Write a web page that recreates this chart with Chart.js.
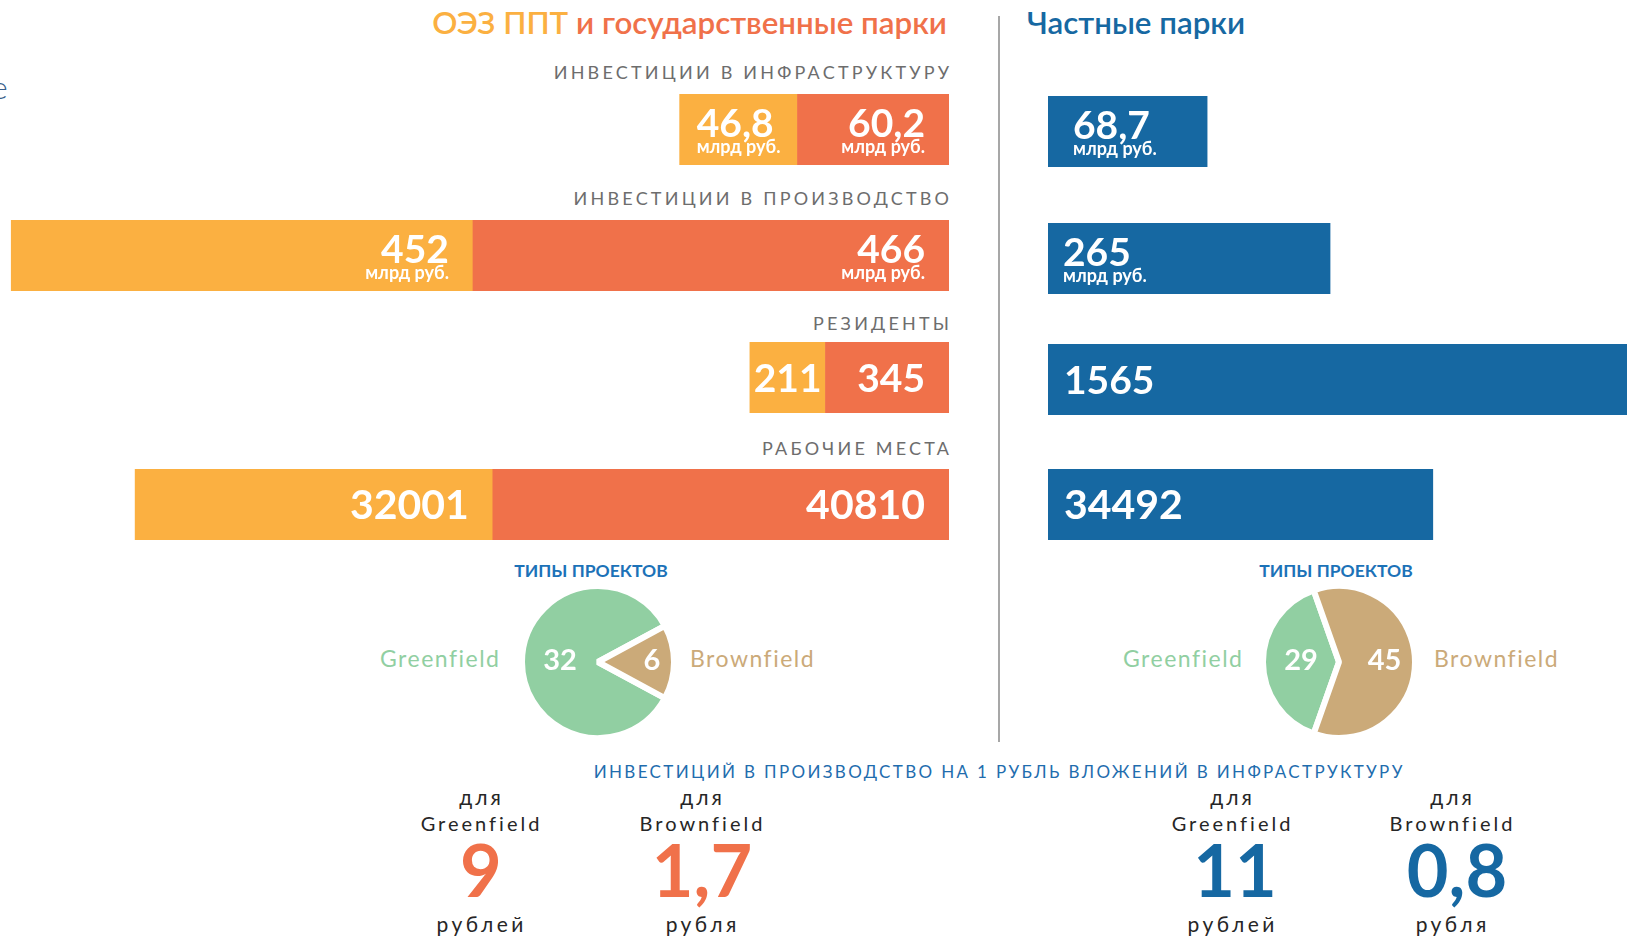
<!DOCTYPE html>
<html lang="ru">
<head>
<meta charset="utf-8">
<title>ОЭЗ ППТ, государственные и частные парки</title>
<script src="https://cdn.jsdelivr.net/npm/chart.js@4.4.1/dist/chart.umd.min.js"></script>
<style>
    html, body { margin: 0; padding: 0; background: #fff; }
    body {
        width: 1627px; height: 939px; position: relative; overflow: hidden;
        font-family: Lato, "Open Sans", sans-serif;
    }
    .txt { position: absolute; white-space: nowrap; line-height: 1; }
    canvas { position: absolute; }
    .divider { position: absolute; left: 998px; top: 16px; width: 2px; height: 726px; background: #a7a7a7; }
</style>
</head>
<body>
<div class="divider"></div>
<script>
// Données
const rowTitles = ['ИНВЕСТИЦИИ В ИНФРАСТРУКТУРУ', 'ИНВЕСТИЦИИ В ПРОИЗВОДСТВО', 'РЕЗИДЕНТЫ', 'РАБОЧИЕ МЕСТА'];
const rowUnits = ['млрд руб.', 'млрд руб.', '', ''];
const oezValues = [46.8, 452, 211, 32001];
const stateParkValues = [60.2, 466, 345, 40810];
const privateValues = [68.7, 265, 1565, 34492];

const pieLabels = ['Greenfield', 'Brownfield'];
const stateProjectTypes = [32, 6];
const privateProjectTypes = [29, 45];

const returnLabels = ['Greenfield', 'Brownfield'];
const returnUnits = ['рублей', 'рубля'];
const stateReturns = [9, 1.7];
const privateReturns = [11, 0.8];

// L'infographie n'a pas d'échelle commune : un maximum d'axe par ligne
const leftAxisMax = [377, 929, 2650, 84900];
const rightAxisMax = [250, 544, 1565, 51900];

// Couleurs
const ORANGE = '#fbb041';
const RED = '#f0714a';
const BLUE = '#1668a2';
const GREEN = '#91cfa2';
const TAN = '#cbaa79';
const FONT = 'Lato, "Open Sans", sans-serif';

// Mise en page
const leftRowTop = [94, 220, 342, 469];
const rightRowTop = [96, 223, 344, 469];
const rowHeight = 71;
const rowTitleBaseline = [79, 205, 330, 455];
const rowNumberSize = [39, 39, 39, 41];
const rightPad = [25, 15, 16, 16];

function formatNumber(v) {
    return String(v).replace('.', ',');
}

// Texte HTML positionné sur sa ligne de base
function addText(text, o) {
    const el = document.createElement('div');
    el.className = 'txt';
    if (Array.isArray(text)) {
        text.forEach(([t, c]) => {
            const s = document.createElement('span');
            s.textContent = t;
            s.style.color = c;
            el.appendChild(s);
        });
    } else {
        el.textContent = text;
        el.style.color = o.color;
    }
    const size = o.size;
    const sp = o.spacing || 0;
    el.style.fontSize = size + 'px';
    el.style.fontWeight = o.weight || 400;
    el.style.letterSpacing = sp + 'px';
    el.style.top = (o.baseline - 0.887 * size) + 'px';
    if (o.align === 'right') {
        el.style.right = (1627 - o.x - sp) + 'px';
    } else if (o.align === 'center') {
        el.style.left = (o.x + sp / 2) + 'px';
        el.style.transform = 'translateX(-50%)';
    } else {
        el.style.left = o.x + 'px';
    }
    document.body.appendChild(el);
    return el;
}

function addCanvas(left, top, width, height) {
    const c = document.createElement('canvas');
    c.width = width;
    c.height = height;
    c.style.left = left + 'px';
    c.style.top = top + 'px';
    document.body.appendChild(c);
    return c;
}

// Étiquettes blanches dans les barres
const barTextPlugin = {
    id: 'barText',
    afterDatasetsDraw(chart, args, opts) {
        const ctx = chart.ctx;
        const numFont = `bold ${opts.size}px ${FONT}`;
        const unitFont = `bold 18px ${FONT}`;
        ctx.save();
        ctx.fillStyle = '#fff';
        ctx.textBaseline = 'alphabetic';
        chart.data.datasets.forEach((ds, di) => {
            chart.getDatasetMeta(di).data.forEach((bar, i) => {
                const {x, y, base} = bar.getProps(['x', 'y', 'base'], true);
                const segLeft = Math.min(x, base);
                const segRight = Math.max(x, base);
                const text = formatNumber(ds.data[i]);

                ctx.font = numFont;
                let blockWidth = ctx.measureText(text).width;
                if (opts.unit) {
                    ctx.font = unitFont;
                    blockWidth = Math.max(blockWidth, ctx.measureText(opts.unit).width);
                }

                let tx;
                if (opts.align === 'left') {
                    tx = segLeft + opts.pad;
                    ctx.textAlign = 'left';
                } else if (segRight - segLeft < blockWidth + 2 * opts.pad) {
                    // segment étroit : bloc centré
                    tx = (segLeft + segRight - blockWidth) / 2;
                    ctx.textAlign = 'left';
                } else {
                    tx = segRight - opts.pad;
                    ctx.textAlign = 'right';
                }

                ctx.font = numFont;
                if (opts.unit) {
                    ctx.fillText(text, tx, y + 7);
                    ctx.font = unitFont;
                    ctx.fillText(opts.unit, tx, y + 23.5);
                } else {
                    ctx.fillText(text, tx, y + 14);
                }
            });
        });
        ctx.restore();
    }
};

// Valeurs dans les parts du camembert
const pieTextPlugin = {
    id: 'pieText',
    afterDatasetsDraw(chart, args, opts) {
        const ctx = chart.ctx;
        const values = chart.data.datasets[0].data;
        ctx.save();
        ctx.fillStyle = '#fff';
        ctx.font = `bold 29px ${FONT}`;
        ctx.textAlign = 'center';
        ctx.textBaseline = 'alphabetic';
        chart.getDatasetMeta(0).data.forEach((arc, i) => {
            const {x, y, startAngle, endAngle, outerRadius} =
                arc.getProps(['x', 'y', 'startAngle', 'endAngle', 'outerRadius'], true);
            const mid = (startAngle + endAngle) / 2;
            const r = outerRadius * opts.radius[i];
            ctx.fillText(String(values[i]), x + Math.cos(mid) * r, y + Math.sin(mid) * r + 8);
        });
        ctx.restore();
    }
};

function createRowChart(canvas, datasets, axisMax, reverse, textOpts) {
    return new Chart(canvas, {
        type: 'bar',
        data: { labels: [''], datasets: datasets },
        options: {
            indexAxis: 'y',
            responsive: false,
            animation: false,
            layout: { padding: 0 },
            datasets: { bar: { barPercentage: 1, categoryPercentage: 1, borderWidth: 0 } },
            scales: {
                x: { display: false, stacked: true, reverse: reverse, min: 0, max: axisMax },
                y: { display: false, stacked: true }
            },
            plugins: {
                legend: { display: false },
                tooltip: { enabled: false },
                barText: textOpts
            }
        },
        plugins: [barTextPlugin]
    });
}

function createPieChart(canvas, values, labelRadius) {
    const total = values[0] + values[1];
    return new Chart(canvas, {
        type: 'pie',
        data: {
            labels: pieLabels,
            datasets: [{
                data: values,
                backgroundColor: [GREEN, TAN],
                borderColor: '#fff',
                borderWidth: 6,
                hoverOffset: 0
            }]
        },
        options: {
            responsive: false,
            animation: false,
            layout: { padding: 0 },
            // Greenfield centré à gauche
            rotation: 270 - 180 * values[0] / total,
            plugins: {
                legend: { display: false },
                tooltip: { enabled: false },
                pieText: { radius: labelRadius }
            }
        },
        plugins: [pieTextPlugin]
    });
}

// Titres
addText([['ОЭЗ ППТ', ORANGE], [' и государственные парки', RED]],
    { x: 947, baseline: 35, size: 31.3, weight: 600, align: 'right' });
addText('Частные парки', { x: 1027, baseline: 35, size: 31.3, weight: 600, color: BLUE });
addText('e', { x: -9, baseline: 99, size: 32, weight: 300, color: '#3a5f8a' });

// Lignes de barres
rowTitles.forEach((title, i) => {
    addText(title, { x: 949, baseline: rowTitleBaseline[i], size: 18, spacing: 3.2, color: '#6d6d6d', align: 'right' });

    createRowChart(addCanvas(0, leftRowTop[i], 949, rowHeight), [
        { data: [stateParkValues[i]], backgroundColor: RED },
        { data: [oezValues[i]], backgroundColor: ORANGE }
    ], leftAxisMax[i], true, { align: 'right', pad: 24, size: rowNumberSize[i], unit: rowUnits[i] });

    createRowChart(addCanvas(1048, rightRowTop[i], 579, rowHeight), [
        { data: [privateValues[i]], backgroundColor: BLUE }
    ], rightAxisMax[i], false, { align: 'left', pad: rightPad[i], size: rowNumberSize[i], unit: rowUnits[i] });
});

// Types de projets
[[591, 499, 690, 519, stateProjectTypes, [0.5, 0.71]],
 [1336, 1242, 1434, 1260, privateProjectTypes, [0.5, 0.6]]].forEach(([cx, gx, bx, px, values, lr]) => {
    addText('ТИПЫ ПРОЕКТОВ', { x: cx, baseline: 578, size: 17.5, weight: 700, color: '#1c72b8', align: 'center' });
    addText(pieLabels[0], { x: gx, baseline: 667, size: 23, spacing: 1.5, color: GREEN, align: 'right' });
    addText(pieLabels[1], { x: bx, baseline: 667, size: 23, spacing: 1.5, color: TAN });
    createPieChart(addCanvas(px, 583, 158, 158), values, lr);
});

// Investissements par rouble
addText('ИНВЕСТИЦИЙ В ПРОИЗВОДСТВО НА 1 РУБЛЬ ВЛОЖЕНИЙ В ИНФРАСТРУКТУРУ',
    { x: 998, baseline: 778, size: 17, spacing: 2.35, color: '#1f6dae', align: 'center' });

const returnColumns = [480, 701, 1231, 1451];
const returnNumberX = [481, 702, 1235, 1457];
[...stateReturns, ...privateReturns].forEach((v, i) => {
    const k = i % 2;
    const cx = returnColumns[i];
    const color = i < 2 ? RED : BLUE;
    addText('для', { x: cx, baseline: 805, size: 21, spacing: 3, color: '#262626', align: 'center' });
    addText(returnLabels[k], { x: cx, baseline: 831, size: 20, spacing: 3, color: '#262626', align: 'center' });
    addText(formatNumber(v), { x: returnNumberX[i], baseline: 897, size: 72, weight: 700, color: color, align: 'center' });
    addText(returnUnits[k], { x: cx, baseline: 932, size: 21, spacing: 3.4, color: '#262626', align: 'center' });
});
</script>
</body>
</html>
